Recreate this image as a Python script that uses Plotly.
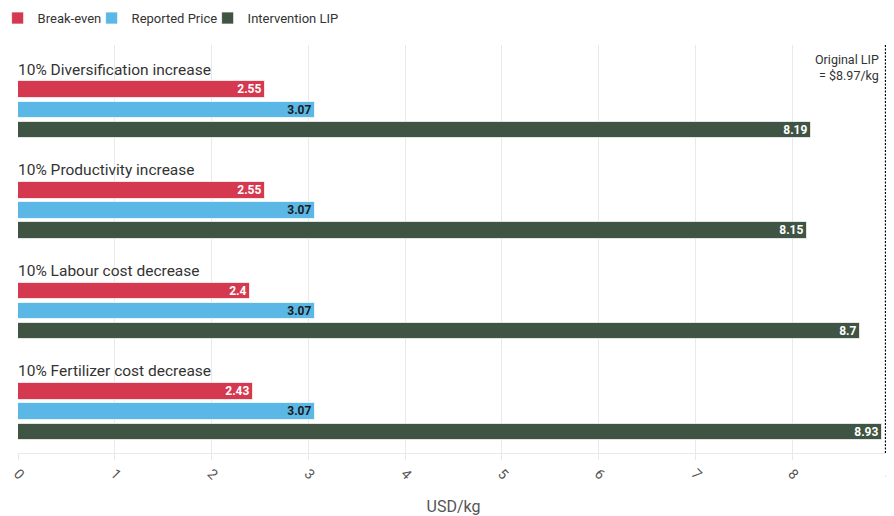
import plotly.graph_objects as go

categories = ["10% Diversification increase", "10% Productivity increase",
              "10% Labour cost decrease", "10% Fertilizer cost decrease"]
break_even = [2.55, 2.55, 2.4, 2.43]
reported_price = [3.07, 3.07, 3.07, 3.07]
intervention_lip = [8.19, 8.15, 8.7, 8.93]
original_lip = 8.97
x_ticks = [0, 1, 2, 3, 4, 5, 6, 7, 8, 9]

FONT = "Roboto"

series = [
    ("Break-even", break_even, "#d5394f", "white", 49),
    ("Reported Price", reported_price, "#5bb7e5", "#1a1a1a", 71),
    ("Intervention LIP", intervention_lip, "#3f5443", "white", None),
]

fig = go.Figure()
for i, (name, vals, color, tcolor, lw) in enumerate(series):
    ys = [g * 5 + 1 + i for g in range(len(categories))]
    fig.add_trace(go.Bar(
        name=name, x=vals, y=ys, orientation="h", width=0.82,
        marker=dict(color=color, line=dict(color="rgba(255,255,255,0.7)", width=1)),
        text=[str(v) for v in vals], textposition="inside", insidetextanchor="end",
        textfont=dict(family=FONT, size=12, color=tcolor, weight="bold"),
        textangle=0, constraintext="none", hoverinfo="x+name",
        legendwidth=lw,
    ))

for g, cat in enumerate(categories):
    fig.add_annotation(x=0, y=g * 5, xref="x", yref="y", text=cat, showarrow=False,
                       xanchor="left", yanchor="middle", xshift=-2,
                       font=dict(family=FONT, size=15.5, color="#333333"))

fig.add_shape(type="line", x0=original_lip, x1=original_lip, xref="x", yref="paper",
              y0=0, y1=1, line=dict(color="#000000", width=2.5, dash="2px,1.5px"))
fig.add_annotation(x=original_lip, y=-0.1, xref="x", yref="y",
                   text="Original LIP<br>= $8.97/kg", showarrow=False, xanchor="right",
                   yanchor="middle", align="right", xshift=-5,
                   font=dict(family=FONT, size=12.5, color="#333333"))

# page body has an 8px margin, so the figure is sized/offset to compensate
fig.update_layout(
    width=886, height=508, plot_bgcolor="white", paper_bgcolor="white",
    margin=dict(l=10, r=5, t=37, b=63, autoexpand=False),
    barmode="overlay", bargap=0,
    font=dict(family=FONT, color="#555555"),
    legend=dict(orientation="h", x=-0.0234, y=1.066, xanchor="left", yanchor="middle",
                font=dict(family=FONT, size=13, color="#333333"), itemwidth=30,
                traceorder="normal"),
    xaxis=dict(range=[0, 9], tickvals=x_ticks, tickangle=45, showgrid=True,
               gridcolor="#e9e9e9", gridwidth=1, zeroline=False, showline=True,
               linecolor="#e9e9e9", ticks="outside", ticklen=6, tickcolor="#e9e9e9",
               automargin=False, ticklabeloverflow="allow",
               tickfont=dict(family=FONT, size=14, color="#555555"),
               title=dict(text="USD/kg", font=dict(family=FONT, size=16, color="#555555"),
                          standoff=19)),
    yaxis=dict(range=[19.05, -1.22], showticklabels=False, showgrid=False,
               zeroline=False, showline=False, automargin=False),
)

fig.write_html("out.html")
